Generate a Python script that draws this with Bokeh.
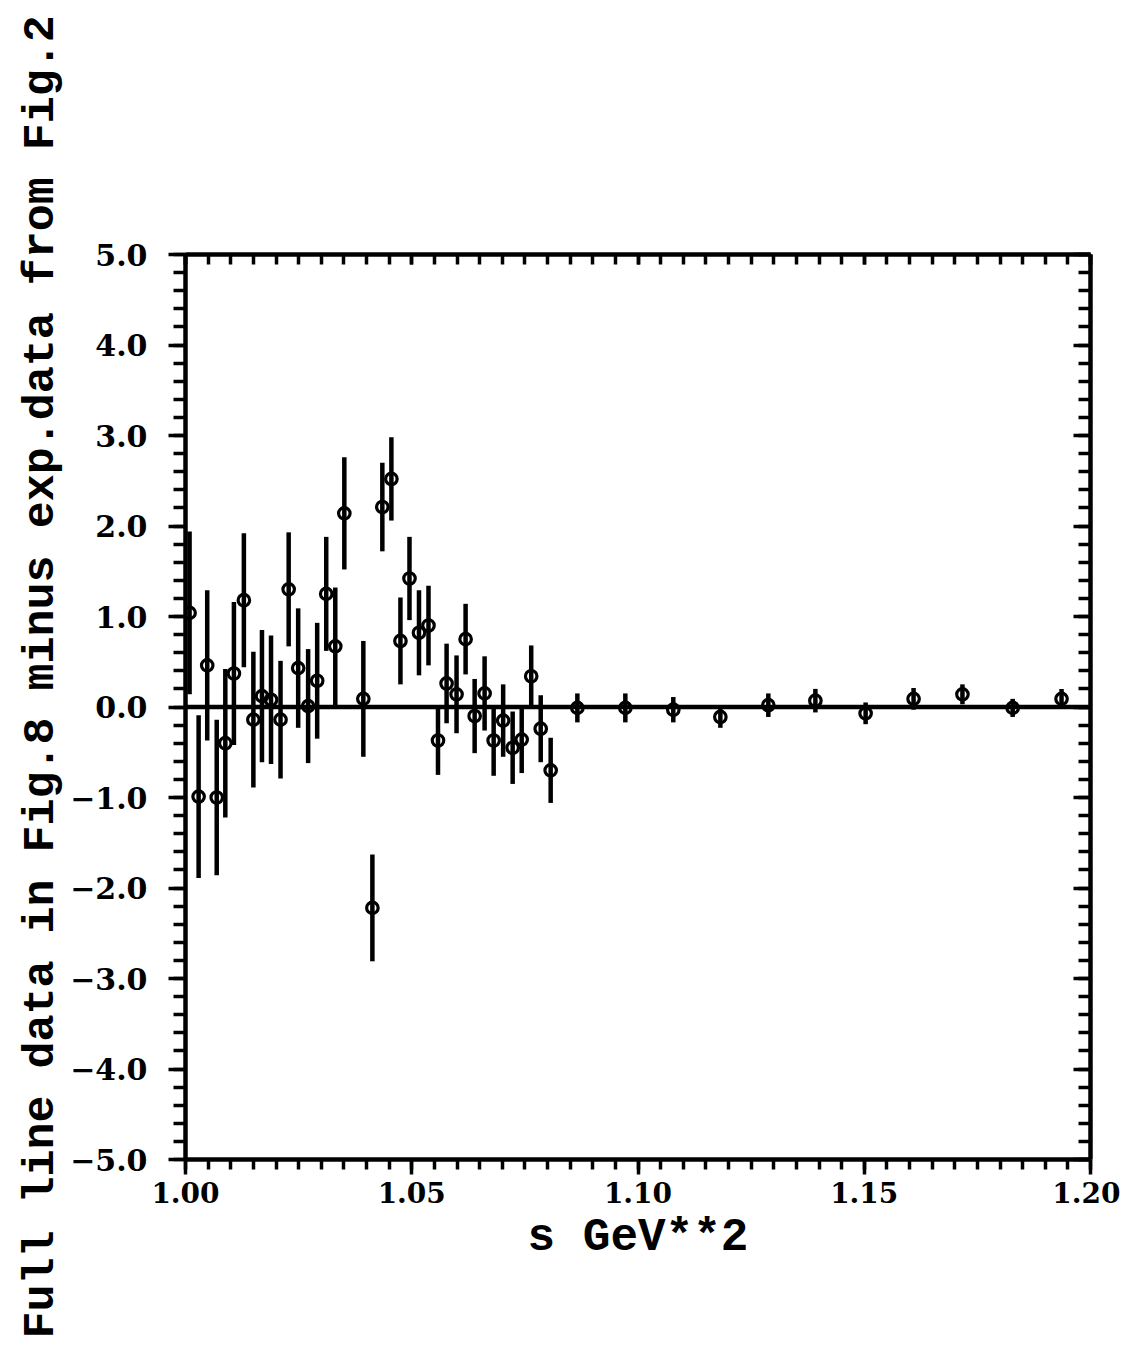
import numpy as np
from bokeh.plotting import figure
from bokeh.models import ColumnDataSource, Range1d, LinearAxis, FixedTicker, Span, Title
from bokeh.embed import file_html
from bokeh.resources import INLINE

# ---------------- data ----------------
s_values = [1.0009, 1.0029, 1.0048, 1.0069, 1.0088, 1.0107, 1.0129, 1.0150, 1.0169, 1.0189,
            1.0210, 1.0228, 1.0249, 1.0271, 1.0291, 1.0311, 1.0331, 1.0351, 1.0393, 1.0413,
            1.0435, 1.0455, 1.0475, 1.0495, 1.0516, 1.0537, 1.0558, 1.0577, 1.0599, 1.0619,
            1.0639, 1.0661, 1.0681, 1.0702, 1.0723, 1.0743, 1.0764, 1.0785, 1.0807,
            1.0866, 1.0972, 1.1078, 1.1182, 1.1288, 1.1392, 1.1503, 1.1609, 1.1717, 1.1828, 1.1936]
diff_values = [1.04, -0.99, 0.46, -1.00, -0.40, 0.37, 1.18, -0.14, 0.12, 0.08,
               -0.14, 1.30, 0.43, 0.01, 0.29, 1.25, 0.67, 2.14, 0.09, -2.22,
               2.21, 2.52, 0.73, 1.42, 0.82, 0.90, -0.37, 0.26, 0.14, 0.75,
               -0.10, 0.15, -0.37, -0.15, -0.45, -0.36, 0.34, -0.24, -0.70,
               -0.01, -0.01, -0.03, -0.11, 0.02, 0.07, -0.07, 0.09, 0.14, -0.01, 0.09]
err_values = [0.90, 0.90, 0.83, 0.86, 0.82, 0.79, 0.74, 0.75, 0.73, 0.71,
              0.65, 0.63, 0.66, 0.63, 0.64, 0.63, 0.65, 0.62, 0.64, 0.59,
              0.49, 0.46, 0.48, 0.46, 0.47, 0.44, 0.38, 0.44, 0.43, 0.39,
              0.41, 0.41, 0.39, 0.40, 0.40, 0.37, 0.34, 0.37, 0.36,
              0.16, 0.16, 0.14, 0.12, 0.13, 0.13, 0.12, 0.12, 0.11, 0.10, 0.11]

x_tick_values = [1.00, 1.05, 1.10, 1.15, 1.20]
x_tick_labels = ["1.00", "1.05", "1.10", "1.15", "1.20"]
y_tick_values = [-5, -4, -3, -2, -1, 0, 1, 2, 3, 4, 5]
y_tick_labels = ["\u22125.0", "\u22124.0", "\u22123.0", "\u22122.0", "\u22121.0", "0.0",
                 "1.0", "2.0", "3.0", "4.0", "5.0"]
x_label = "s GeV**2"
y_label = "Full line data in Fig.8 minus exp.data from Fig.2"

x_minor = [round(1.0 + 0.005 * i, 4) for i in range(41)]
y_minor = [round(-5.0 + 0.2 * i, 4) for i in range(51)]

lower = [v - e for v, e in zip(diff_values, err_values)]
upper = [v + e for v, e in zip(diff_values, err_values)]
src = ColumnDataSource(dict(s=s_values, d=diff_values, lo=lower, hi=upper))

# ---------------- figure ----------------
W, H = 1120, 1345
p = figure(width=W, height=H,
           x_range=Range1d(1.0, 1.2), y_range=Range1d(-5.0, 5.0),
           output_backend="svg", toolbar_location=None,
           min_border_left=185, min_border_right=W - 1090,
           min_border_top=254, min_border_bottom=H - 1159)
p.outline_line_color = None
p.xgrid.visible = False
p.ygrid.visible = False
p.background_fill_color = "white"
p.border_fill_color = "white"

TICK_FONT = "DejaVu Serif"

def style_axis(ax, ticks, minor, labels, mj_in, mj_out, mn_in, mn_out, show, fsize="30px"):
    ax.ticker = FixedTicker(ticks=ticks, minor_ticks=minor)
    ax.axis_line_width = 4.5
    ax.axis_line_color = "black"
    ax.major_tick_line_width = 3.5
    ax.minor_tick_line_width = 3.5
    ax.major_tick_line_color = "black"
    ax.minor_tick_line_color = "black"
    ax.major_tick_in = mj_in
    ax.major_tick_out = mj_out
    ax.minor_tick_in = mn_in
    ax.minor_tick_out = mn_out
    if show:
        ax.major_label_overrides = {t: l for t, l in zip(ticks, labels)}
        ax.major_label_text_font = TICK_FONT
        ax.major_label_text_font_style = "bold"
        ax.major_label_text_font_size = fsize
        ax.major_label_text_color = "black"
    else:
        ax.major_label_text_font_size = "0px"
        ax.major_label_text_alpha = 0

xb = p.xaxis[0]
style_axis(xb, x_tick_values, x_minor, x_tick_labels, 0, 15, 0, 10, True, "28px")
xb.major_label_standoff = 7
xb.axis_label = x_label
xb.axis_label_text_font = "Liberation Mono"
xb.axis_label_text_font_style = "bold"
xb.axis_label_text_font_size = "46px"
xb.axis_label_text_color = "black"
xb.axis_label_standoff = 6

yl = p.yaxis[0]
style_axis(yl, y_tick_values, y_minor, y_tick_labels, 0, 17, 0, 12, True, "30px")
yl.major_label_standoff = 21

xt = LinearAxis()
style_axis(xt, x_tick_values, x_minor, x_tick_labels, 10, 0, 10, 0, False)
p.add_layout(xt, "above")

yr = LinearAxis()
style_axis(yr, y_tick_values, y_minor, y_tick_labels, 17, 0, 12, 0, False)
p.add_layout(yr, "right")

# y-axis label as a left-side title, started below the frame like the reference
p.add_layout(Title(text=y_label, align="left", offset=-179, standoff=2,
                   text_font="Liberation Mono", text_font_style="bold",
                   text_font_size="45px", text_color="black"), "left")

# zero line
p.add_layout(Span(location=0, dimension="width", line_color="black", line_width=4.5))

# error bars and points
p.segment(x0="s", y0="lo", x1="s", y1="hi", source=src, line_color="black", line_width=4.5)
p.scatter(x="s", y="d", source=src, marker="circle", size=11.5,
          fill_color=None, line_color="black", line_width=3.2)

open("out.html", "w").write(file_html(p, INLINE))
